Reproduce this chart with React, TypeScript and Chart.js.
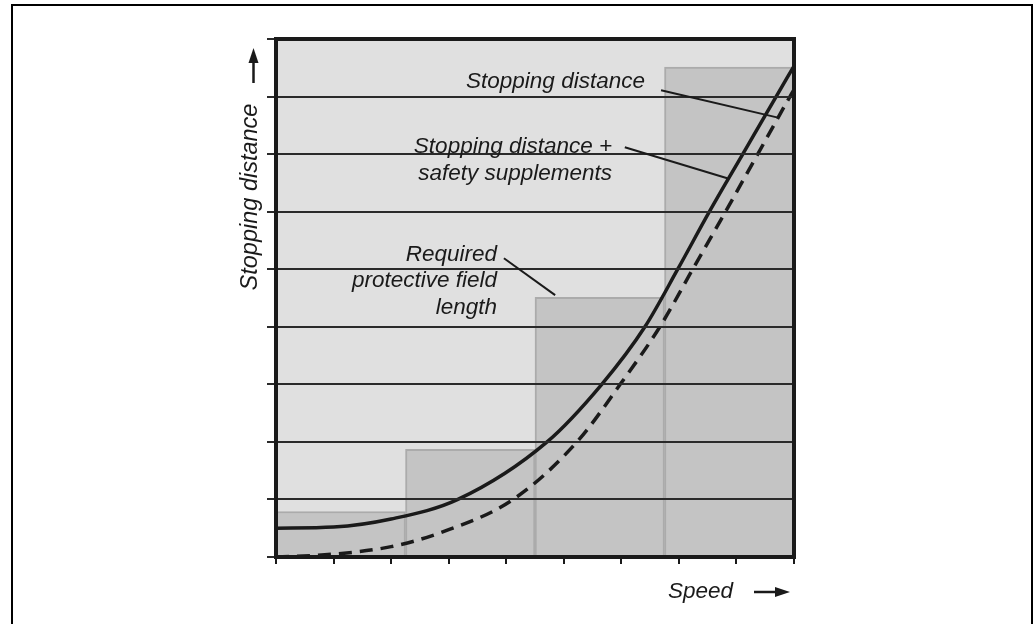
import React, { useEffect, useRef } from "react";
import { Chart, registerables } from "chart.js";

Chart.register(...registerables);

// ---- data ----
const barLabels = ["Range 1", "Range 2", "Range 3", "Range 4"];
const protectiveField = [0.79, 1.87, 4.51, 8.51];

const speedSolid = [0, 1, 2, 3.16, 4.71, 5.66, 6.41, 6.98, 7.53, 8.11, 8.69, 9];
const stoppingPlusSupplements = [0.5, 0.52, 0.66, 1.0, 2.0, 3.0, 4.0, 5.0, 6.0, 7.0, 8.0, 8.53];

const speedDashed = [0, 1, 2, 2.85, 4.12, 5.23, 5.98, 6.67, 7.24, 7.81, 8.37, 8.93, 9];
const stoppingDistance = [0, 0.05, 0.18, 0.42, 1.0, 2.0, 3.0, 4.0, 5.0, 6.0, 7.0, 8.0, 8.12];

const axisMin = 0;
const axisMax = 9;
const tickStep = 1;

const yAxisTitle = "Stopping distance";
const xAxisTitle = "Speed";

const annotationLines = [
  ["Stopping distance"],
  ["Stopping distance +", "safety supplements"],
  ["Required", "protective field", "length"],
];
// text anchor (right edge x, first line centre y) and leader line, in data units
const annotationAnchorX = [6.41, 5.84, 3.84];
const annotationAnchorY = [8.25, 7.12, 5.26];
const leaderFrom = [
  [6.69, 8.11],
  [6.06, 7.12],
  [3.96, 5.19],
];
const leaderTo = [
  [8.74, 7.63],
  [7.84, 6.58],
  [4.85, 4.55],
];

const FONT = 'italic 22.5px "Liberation Sans", Arial, sans-serif';
const FONT_Y = 'italic 23.5px "Liberation Sans", Arial, sans-serif';
const INK = "#1a1a1a";

const decorPlugin = {
  id: "decor",
  beforeDraw(chart: any) {
    const { ctx, chartArea: a } = chart;
    ctx.save();
    ctx.fillStyle = "#e0e0e0";
    ctx.fillRect(a.left, a.top, a.right - a.left, a.bottom - a.top);
    ctx.restore();
  },
  afterDraw(chart: any) {
    const { ctx, chartArea: a } = chart;
    const xs = chart.scales.x;
    const ys = chart.scales.y;
    ctx.save();

    // frame around plot area
    ctx.strokeStyle = INK;
    ctx.lineWidth = 4;
    ctx.strokeRect(a.left, a.top, a.right - a.left, a.bottom - a.top);

    // annotations
    ctx.font = FONT;
    ctx.fillStyle = INK;
    ctx.textAlign = "right";
    ctx.textBaseline = "middle";
    const lh = 26.5;
    annotationLines.forEach((lines, i) => {
      const px = xs.getPixelForValue(annotationAnchorX[i]);
      const py = ys.getPixelForValue(annotationAnchorY[i]);
      lines.forEach((t, j) => ctx.fillText(t, px, py + j * lh));
      ctx.beginPath();
      ctx.lineWidth = 2;
      ctx.strokeStyle = INK;
      ctx.moveTo(xs.getPixelForValue(leaderFrom[i][0]), ys.getPixelForValue(leaderFrom[i][1]));
      ctx.lineTo(xs.getPixelForValue(leaderTo[i][0]), ys.getPixelForValue(leaderTo[i][1]));
      ctx.stroke();
    });

    // y axis title (rotated) + arrow
    ctx.save();
    ctx.font = FONT_Y;
    ctx.translate(a.left - 26, a.top + 158);
    ctx.rotate(-Math.PI / 2);
    ctx.textAlign = "center";
    ctx.textBaseline = "middle";
    ctx.fillText(yAxisTitle, 0, 0);
    ctx.restore();

    const ax = a.left - 22.5;
    ctx.beginPath();
    ctx.lineWidth = 2.5;
    ctx.moveTo(ax, a.top + 44);
    ctx.lineTo(ax, a.top + 20);
    ctx.stroke();
    ctx.beginPath();
    ctx.moveTo(ax, a.top + 9);
    ctx.lineTo(ax - 5, a.top + 24);
    ctx.lineTo(ax + 5, a.top + 24);
    ctx.closePath();
    ctx.fill();

    // x axis title + arrow
    ctx.textAlign = "left";
    ctx.textBaseline = "middle";
    ctx.fillText(xAxisTitle, a.right - 126, a.bottom + 35);
    const ay = a.bottom + 35;
    ctx.beginPath();
    ctx.lineWidth = 2.5;
    ctx.moveTo(a.right - 40, ay);
    ctx.lineTo(a.right - 16, ay);
    ctx.stroke();
    ctx.beginPath();
    ctx.moveTo(a.right - 4, ay);
    ctx.lineTo(a.right - 19, ay - 5);
    ctx.lineTo(a.right - 19, ay + 5);
    ctx.closePath();
    ctx.fill();

    // outer figure border
    ctx.lineWidth = 2;
    ctx.strokeStyle = "#000";
    ctx.strokeRect(12, 5, 1020, 1000);

    ctx.restore();
  },
};

export default function App() {
  const ref = useRef<HTMLCanvasElement>(null);

  useEffect(() => {
    const chart = new Chart(ref.current as HTMLCanvasElement, {
      type: "line",
      data: {
        labels: barLabels,
        datasets: [
          {
            type: "bar",
            label: "Required protective field length",
            data: protectiveField,
            xAxisID: "xb",
            yAxisID: "y",
            backgroundColor: "#c4c4c4",
            borderColor: "#ababab",
            borderWidth: 2,
            barPercentage: 1,
            categoryPercentage: 1,
            grouped: false,
            order: 3,
          } as any,
          {
            type: "line",
            label: "Stopping distance + safety supplements",
            data: speedSolid.map((s, i) => ({ x: s, y: stoppingPlusSupplements[i] })),
            xAxisID: "x",
            yAxisID: "y",
            borderColor: INK,
            borderWidth: 3.5,
            pointRadius: 0,
            cubicInterpolationMode: "monotone",
            fill: false,
            order: 1,
          } as any,
          {
            type: "line",
            label: "Stopping distance",
            data: speedDashed.map((s, i) => ({ x: s, y: stoppingDistance[i] })),
            xAxisID: "x",
            yAxisID: "y",
            borderColor: INK,
            borderWidth: 3.5,
            borderDash: [13, 8],
            pointRadius: 0,
            cubicInterpolationMode: "monotone",
            fill: false,
            order: 2,
          } as any,
        ],
      },
      options: {
        animation: false,
        responsive: true,
        maintainAspectRatio: false,
        events: [],
        layout: { padding: { left: 266, right: 240, top: 39, bottom: 59 } },
        plugins: {
          legend: { display: false },
          tooltip: { enabled: false },
        },
        scales: {
          x: {
            type: "linear",
            position: "bottom",
            min: axisMin,
            max: axisMax,
            offset: false,
            ticks: { display: false, stepSize: tickStep },
            grid: {
              z: 1,
              offset: false,
              drawOnChartArea: false,
              drawTicks: true,
              tickLength: 7,
              color: INK,
              lineWidth: 2,
            },
            border: { display: true, width: 4, color: INK, z: 2 },
            afterFit: (s: any) => {
              s.height = 8;
            },
          },
          xb: {
            type: "category",
            display: false,
            offset: true,
          },
          y: {
            type: "linear",
            position: "left",
            min: axisMin,
            max: axisMax,
            ticks: { display: false, stepSize: tickStep },
            grid: {
              z: 1,
              offset: false,
              drawTicks: true,
              tickLength: 9,
              color: "#2a2a2a",
              lineWidth: 2,
            },
            border: { display: true, width: 4, color: INK, z: 2 },
            afterFit: (s: any) => {
              s.width = 10;
            },
          },
        },
      } as any,
      plugins: [decorPlugin],
    });
    return () => chart.destroy();
  }, []);

  return (
    <div style={{ position: "fixed", left: 0, top: 0, width: 1034, height: 624, background: "#fff" }}>
      <canvas ref={ref} />
    </div>
  );
}
